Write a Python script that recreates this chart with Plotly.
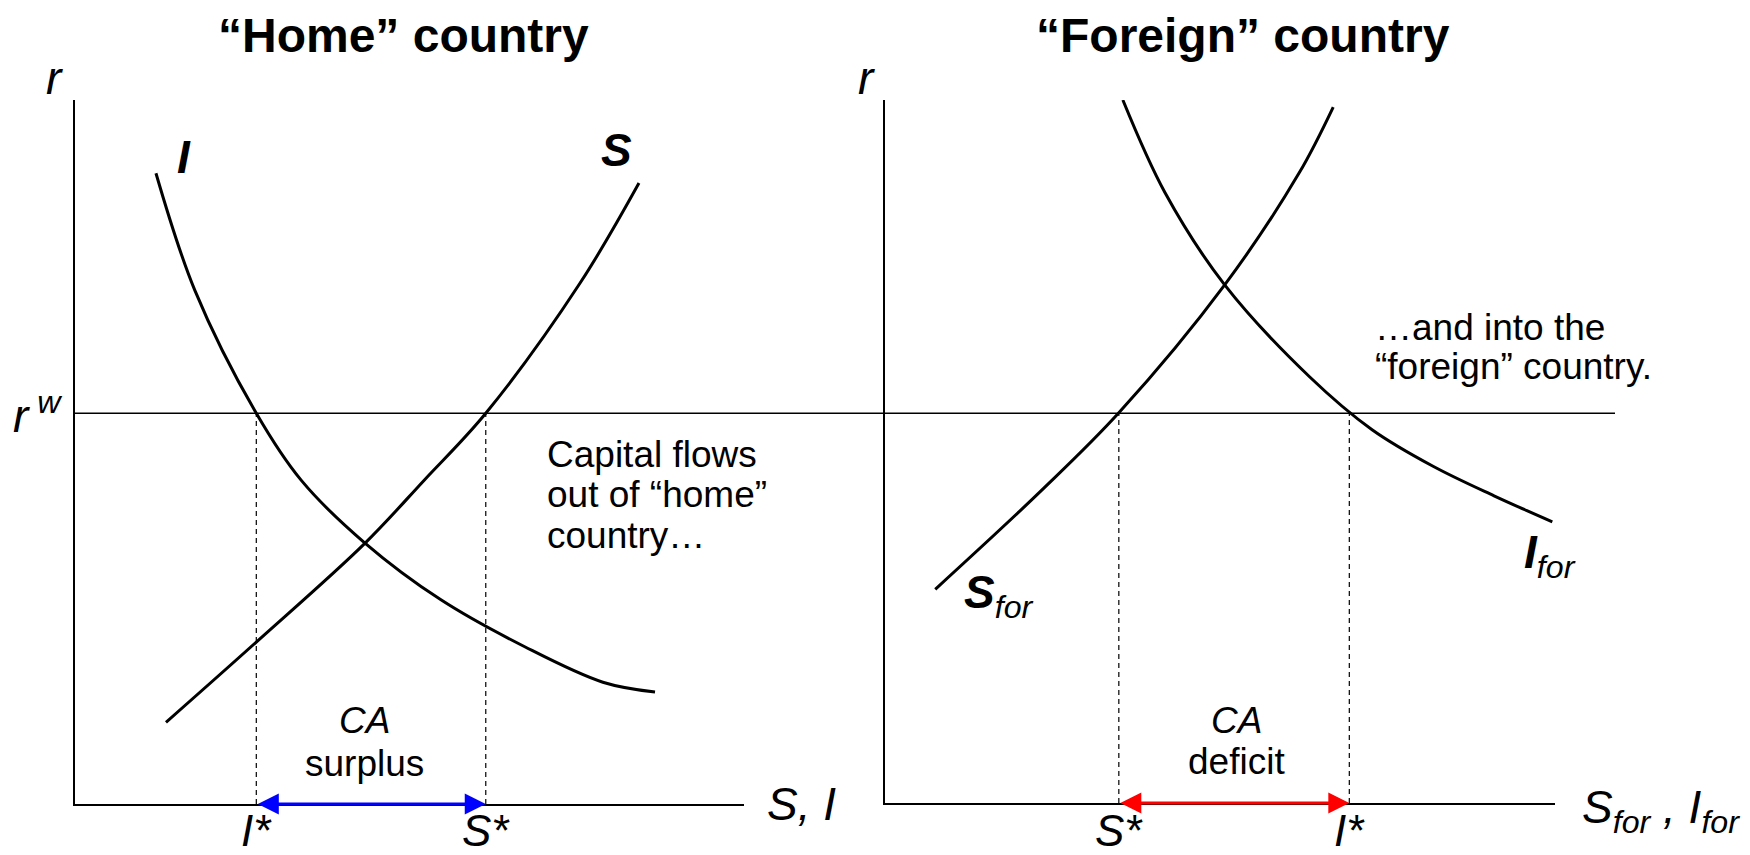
import plotly.graph_objects as go

# ---------------- data (axis units: quantity 0-10, interest rate 0-10) ----------------
RW = 5.55  # world interest rate r^w

home_I_x = [1.21, 1.79, 2.71, 3.38, 4.33, 5.47, 6.73, 7.89, 8.67]
home_I_y = [8.96, 7.30, 5.55, 4.60, 3.71, 2.90, 2.23, 1.73, 1.59]

home_S_x = [1.36, 2.71, 4.34, 5.22, 6.14, 7.55, 8.43]
home_S_y = [1.16, 2.30, 3.71, 4.60, 5.55, 7.40, 8.82]

for_S_x = [0.75, 2.34, 3.49, 5.07, 6.18, 6.69]
for_S_y = [3.04, 4.45, 5.55, 7.37, 8.96, 9.90]

for_I_x = [3.55, 4.18, 5.07, 6.34, 7.27, 8.18, 9.09, 9.96]
for_I_y = [10.0, 8.68, 7.37, 6.06, 5.31, 4.79, 4.37, 4.00]

home_I_star, home_S_star = 2.71, 6.14
for_S_star, for_I_star = 3.49, 6.93

tick_home = ["<i>I*</i>", "<i>S*</i>"]
tick_for = ["<i>S*</i>", "<i>I*</i>"]

# ---------------- figure ----------------
# the page body has an 8px margin, so page pixel p sits at figure pixel p - 8
OFF = 8
W, H = 1750, 855
FONT = "Liberation Sans, Arial, Helvetica, sans-serif"


def PX(xp):  # page pixel -> paper x
    return (xp - OFF) / W


def PY(yp):  # page pixel -> paper y
    return 1 - (yp - OFF) / H


fig = go.Figure()
curve = dict(color="black", width=3, shape="spline", smoothing=1.0)
dash = dict(color="black", width=1.2, dash="5px,4px")

# home panel
fig.add_trace(go.Scatter(x=home_I_x, y=home_I_y, mode="lines", line=curve, xaxis="x", yaxis="y"))
fig.add_trace(go.Scatter(x=home_S_x, y=home_S_y, mode="lines", line=curve, xaxis="x", yaxis="y"))
for xs in (home_I_star, home_S_star):
    fig.add_trace(go.Scatter(x=[xs, xs], y=[0, RW], mode="lines", line=dash, xaxis="x", yaxis="y"))

# foreign panel
fig.add_trace(go.Scatter(x=for_S_x, y=for_S_y, mode="lines", line=curve, xaxis="x2", yaxis="y2"))
fig.add_trace(go.Scatter(x=for_I_x, y=for_I_y, mode="lines", line=curve, xaxis="x2", yaxis="y2"))
for xs in (for_S_star, for_I_star):
    fig.add_trace(go.Scatter(x=[xs, xs], y=[0, RW], mode="lines", line=dash, xaxis="x2", yaxis="y2"))

axis_common = dict(range=[0, 10], showline=True, linecolor="black", linewidth=1.5,
                   showgrid=False, zeroline=False, showticklabels=False, ticks="", fixedrange=True)

fig.update_layout(
    width=W, height=H, autosize=False,
    margin=dict(l=0, r=0, t=0, b=0),
    paper_bgcolor="white", plot_bgcolor="white",
    showlegend=False,
    font=dict(family=FONT, color="black", size=37),
    xaxis=dict(domain=[PX(75), PX(744)], anchor="y", **axis_common),
    yaxis=dict(domain=[PY(804), PY(100)], anchor="x", **axis_common),
    xaxis2=dict(domain=[PX(885), PX(1555)], anchor="y2", **axis_common),
    yaxis2=dict(domain=[PY(803), PY(100)], anchor="x2", **axis_common),
)

# world interest rate line across both panels
fig.add_shape(type="line", xref="paper", yref="y", x0=PX(75), x1=PX(1615), y0=RW, y1=RW,
              line=dict(color="black", width=1.5))

ann = []


def A(text, x, y, xref="x", yref="y", size=37, xanchor="center", yanchor="middle", **kw):
    ann.append(dict(text=text, x=x, y=y, xref=xref, yref=yref, showarrow=False,
                    xanchor=xanchor, yanchor=yanchor, font=dict(size=size, family=FONT, color="black"), **kw))


# titles
A("<b>“Home” country</b>", PX(403), PY(36), xref="paper", yref="paper", size=48)
A("<b>“Foreign” country</b>", PX(1243), PY(36), xref="paper", yref="paper", size=48)

# home panel labels
A("<i>r</i>", PX(54), PY(78), xref="paper", yref="paper", size=46)
A("<i>r</i><sup> <i>w</i></sup>", PX(64), RW, xref="paper", size=46, xanchor="right")
A("<b><i>I</i></b>", 1.63, 9.19, size=46)
A("<b><i>S</i></b>", 8.10, 9.29, size=46)
A("<i>S, I</i>", PX(765), 0.0, xref="paper", size=46, xanchor="left")
A(tick_home[0], home_I_star, PY(830), yref="paper", size=44)
A(tick_home[1], home_S_star, PY(830), yref="paper", size=44)
A("<i>CA</i>", 4.32, 1.18)
A("surplus", 4.32, 0.57)
A("Capital flows", 7.03, 4.97, xanchor="left")
A("out of “home”", 7.03, 4.39, xanchor="left")
A("country…", 7.03, 3.82, xanchor="left")

# foreign panel labels
A("<i>r</i>", PX(866), PY(78), xref="paper", yref="paper", size=46)
A("<b><i>S</i></b><sub><i>for</i></sub>", 1.15, 2.95, xref="x2", yref="y2", size=46, xanchor="left")
A("<b><i>I</i></b><sub><i>for</i></sub>", 9.51, 3.52, xref="x2", yref="y2", size=46, xanchor="left")
A("<i>S<sub>for</sub> , I<sub>for</sub></i>", PX(1580), PY(810), xref="paper", yref="paper",
  size=46, xanchor="left")
A(tick_for[0], for_S_star, PY(830), xref="x2", yref="paper", size=44)
A(tick_for[1], for_I_star, PY(830), xref="x2", yref="paper", size=44)
A("<i>CA</i>", 5.25, 1.17, xref="x2", yref="y2")
A("deficit", 5.25, 0.59, xref="x2", yref="y2")
A("…and into the", 7.28, 6.77, xref="x2", yref="y2", xanchor="left")
A("“foreign” country.", 7.28, 6.21, xref="x2", yref="y2", xanchor="left")

# CA arrows along the horizontal axes
arrow = dict(showarrow=True, arrowhead=2, startarrowhead=2, arrowside="end+start",
             arrowwidth=3, arrowsize=1.4, startarrowsize=1.4, text="")
ann.append(dict(x=home_S_star, y=0, ax=home_I_star, ay=0, xref="x", yref="y", axref="x", ayref="y",
                arrowcolor="#0000ff", **arrow))
ann.append(dict(x=for_I_star, y=0, ax=for_S_star, ay=0, xref="x2", yref="y2", axref="x2", ayref="y2",
                arrowcolor="#ff0000", **arrow))

fig.update_layout(annotations=ann)
fig.write_html("out.html")
